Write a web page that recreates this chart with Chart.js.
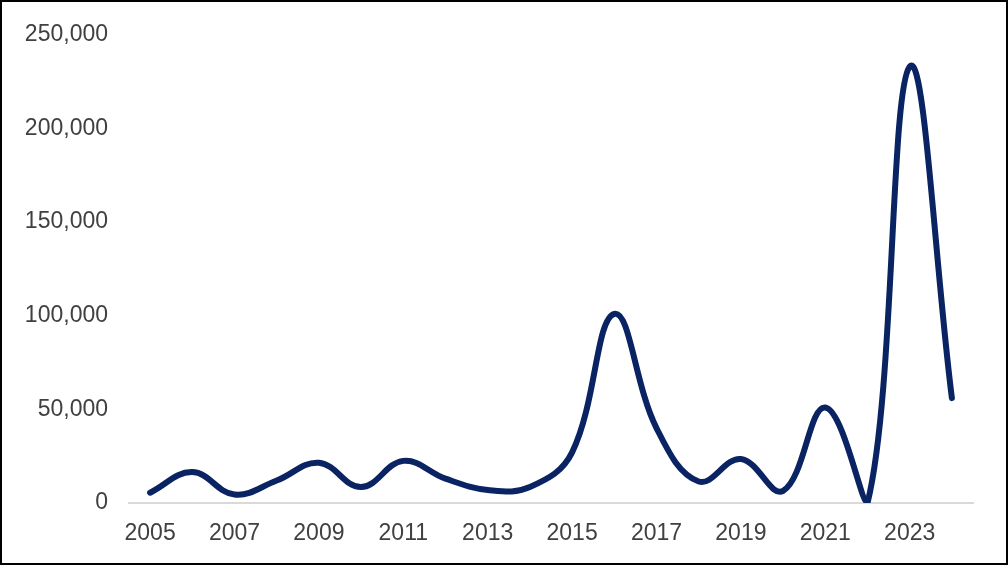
<!DOCTYPE html>
<html>
<head>
<meta charset="utf-8">
<script src="https://cdn.jsdelivr.net/npm/chart.js@4"></script>
<style>
    html, body { margin: 0; padding: 0; background: #fff; }
    .frame {
        position: relative;
        width: 1008px;
        height: 565px;
        box-sizing: border-box;
        border: 2px solid #000;
    }
    .frame canvas { position: absolute; left: -2px; top: -2px; }
</style>
</head>
<body>
<div class="frame">
    <canvas id="lineChart" width="1008" height="565"></canvas>
</div>
<script>
const years = ["2005", "2006", "2007", "2008", "2009", "2010", "2011", "2012", "2013", "2014",
    "2015", "2016", "2017", "2018", "2019", "2020", "2021", "2022", "2023", "2024"];
const values = [5500, 16500, 4500, 12000, 21500, 8500, 22500, 13000, 7000, 8500,
    27000, 101000, 40000, 11500, 23500, 6500, 51000, 0, 233000, 56000];
const yTicks = [0, 50000, 100000, 150000, 200000, 250000];

const textColor = "#404040";
const fontFamily = "'Liberation Sans', Arial, sans-serif";

const ctx = document.getElementById("lineChart").getContext("2d");

new Chart(ctx, {
    type: "line",
    data: {
        labels: years,
        datasets: [
            {
                data: values,
                borderColor: "#0a2362",
                borderWidth: 6,
                borderCapStyle: "round",
                borderJoinStyle: "round",
                fill: false,
                tension: 0.4,
                pointRadius: 0,
                clip: 0,
            },
        ],
    },
    options: {
        responsive: false,
        animation: false,
        layout: { padding: { top: 32, right: 35, bottom: 0, left: 0 } },
        plugins: { legend: { display: false }, tooltip: { enabled: false } },
        scales: {
            x: {
                offset: true,
                grid: { display: false, drawTicks: false },
                border: { display: true, color: "#d9d9d9", width: 2 },
                ticks: {
                    autoSkip: false,
                    maxRotation: 0,
                    padding: 17,
                    color: textColor,
                    font: { family: fontFamily, size: 23 },
                    // only every other year is labelled
                    callback: (val, i) => (i % 2 === 0 ? years[i] : ""),
                },
                afterFit: (scale) => { scale.height = 62; },
            },
            y: {
                min: 0,
                max: 250000,
                grid: { display: false, drawTicks: false },
                border: { display: false },
                afterBuildTicks: (scale) => { scale.ticks = yTicks.map((v) => ({ value: v })); },
                ticks: {
                    padding: 21,
                    color: textColor,
                    font: { family: fontFamily, size: 23 },
                    callback: (v) => v.toLocaleString("en-US"),
                },
                afterFit: (scale) => { scale.width = 129; },
            },
        },
    },
});
</script>
</body>
</html>
